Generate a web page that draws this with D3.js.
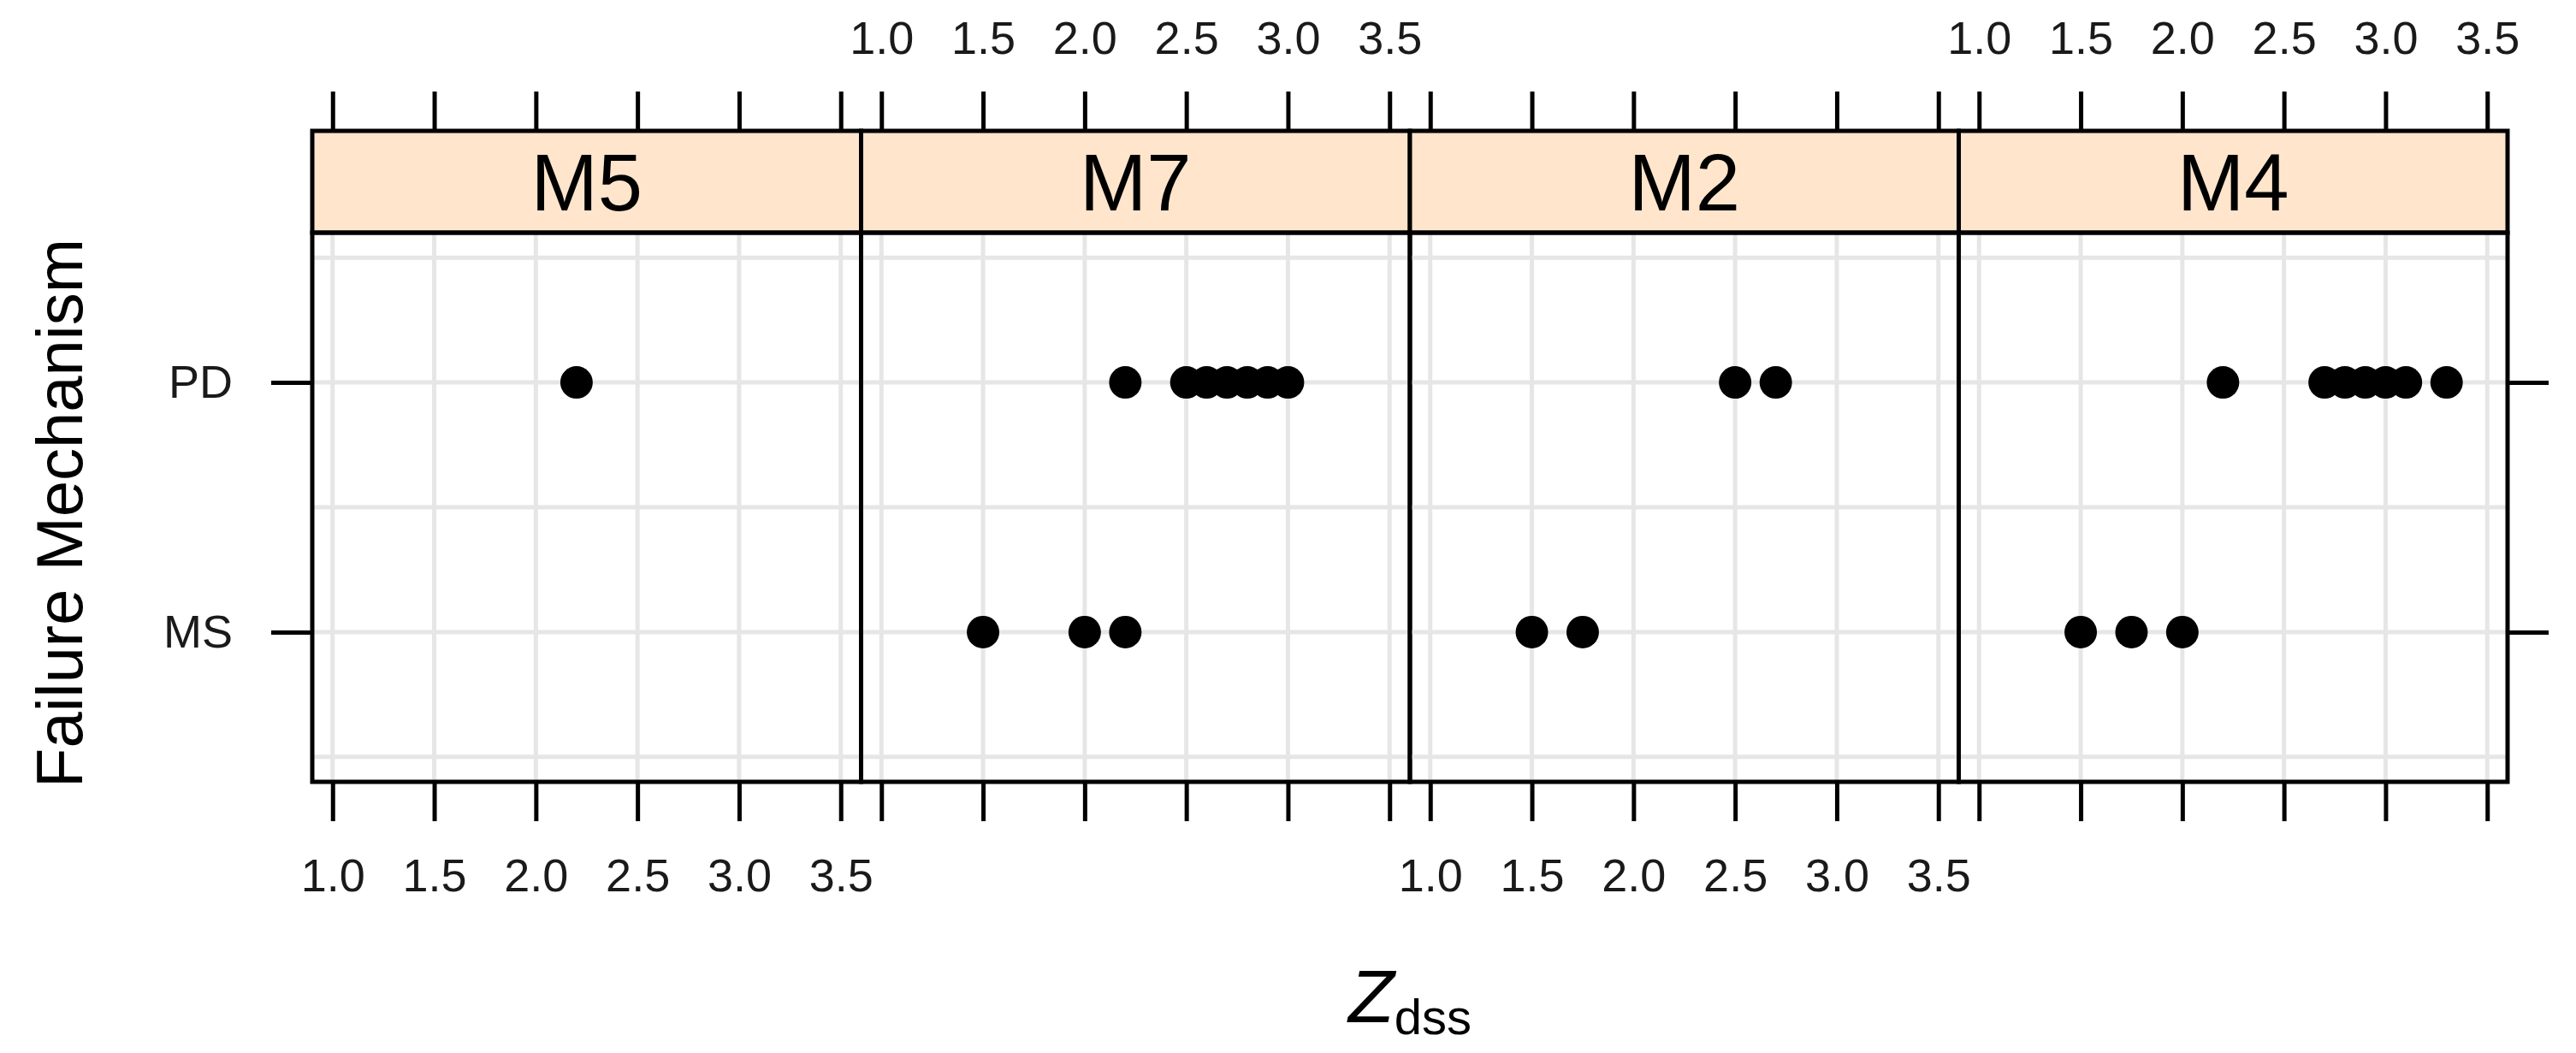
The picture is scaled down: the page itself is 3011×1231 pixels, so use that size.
<html>
<head>
<style>
  body { margin: 0; background: #fff; }
  text { font-family: "Liberation Sans", Arial, sans-serif; }
  .grid line { stroke: #e6e6e6; stroke-width: 5; }
  .tick line { stroke: #000; stroke-width: 5; }
  .tick text { fill: #1a1a1a; }
</style>
</head>
<body>
<svg id="chart" width="3011" height="1231"></svg>
<script src="https://cdn.jsdelivr.net/npm/d3@7"></script>
<script>
// data
const panels = ["M5", "M7", "M2", "M4"]
const mechanisms = ["MS", "PD"]
const xTicks = [1.0, 1.5, 2.0, 2.5, 3.0, 3.5]

const m5PD = [2.2]
const m5MS = []
const m7PD = [2.2, 2.5, 2.6, 2.7, 2.8, 2.9, 3.0]
const m7MS = [1.5, 2.0, 2.2]
const m2PD = [2.5, 2.7]
const m2MS = [1.5, 1.75]
const m4PD = [2.2, 2.7, 2.8, 2.9, 3.0, 3.1, 3.3]
const m4MS = [1.5, 1.75, 2.0]

const pdSets = [m5PD, m7PD, m2PD, m4PD]
const msSets = [m5MS, m7MS, m2MS, m4MS]

let svg = d3.select("#chart")

let left = 365, right = 2931
let stripTop = 153, panelTop = 272, panelBottom = 914
let panelW = (right - left) / panels.length
let tickLen = 46

let y = d3.scaleLinear().domain([0.4, 2.6]).range([panelBottom, panelTop])

panels.forEach((name, i) => {
    let x0 = left + i * panelW
    let x = d3.scaleLinear().domain([0.9, 3.6]).range([x0, x0 + panelW])
    let g = svg.append("g")

    // grid
    let grid = g.append("g").attr("class", "grid")
    grid.selectAll(".v").data(xTicks).enter().append("line")
        .attr("x1", d => x(d)).attr("x2", d => x(d))
        .attr("y1", panelTop).attr("y2", panelBottom)
    grid.selectAll(".h").data([0.5, 1, 1.5, 2, 2.5]).enter().append("line")
        .attr("x1", x0).attr("x2", x0 + panelW)
        .attr("y1", d => y(d)).attr("y2", d => y(d))

    // points
    let pts = pdSets[i].map(v => ({ v: v, m: "PD" }))
        .concat(msSets[i].map(v => ({ v: v, m: "MS" })))
    g.selectAll("circle").data(pts).enter().append("circle")
        .attr("cx", d => x(d.v))
        .attr("cy", d => y(mechanisms.indexOf(d.m) + 1))
        .attr("r", 19)
        .attr("fill", "#000")

    // strip
    g.append("rect")
        .attr("x", x0).attr("y", stripTop)
        .attr("width", panelW).attr("height", panelTop - stripTop)
        .attr("fill", "#ffe5cc").attr("stroke", "#000").attr("stroke-width", 5)
    g.append("text")
        .attr("x", x0 + panelW / 2).attr("y", (stripTop + panelTop) / 2 + 33)
        .attr("text-anchor", "middle")
        .attr("font-size", 94)
        .text(name)

    // panel border
    g.append("rect")
        .attr("x", x0).attr("y", panelTop)
        .attr("width", panelW).attr("height", panelBottom - panelTop)
        .attr("fill", "none").attr("stroke", "#000").attr("stroke-width", 5)

    // axes: labels alternate top / bottom
    let topAxis = d3.axisTop(x).tickValues(xTicks).tickSize(tickLen).tickPadding(44)
        .tickFormat(i % 2 == 1 ? d3.format(".1f") : () => "")
    let botAxis = d3.axisBottom(x).tickValues(xTicks).tickSize(tickLen).tickPadding(44)
        .tickFormat(i % 2 == 0 ? d3.format(".1f") : () => "")
    let ta = g.append("g").attr("transform", `translate(0,${stripTop})`).call(topAxis)
    let ba = g.append("g").attr("transform", `translate(0,${panelBottom})`).call(botAxis)
    for (let a of [ta, ba]) {
        a.select(".domain").remove()
        a.selectAll("text").attr("font-size", 54).attr("font-family", "Liberation Sans, Arial, sans-serif")
    }
})

// y axes
let yFmt = d => mechanisms[d - 1]
let ya = svg.append("g").attr("transform", `translate(${left},0)`)
    .call(d3.axisLeft(y).tickValues([1, 2]).tickSize(48).tickPadding(45).tickFormat(yFmt))
let yb = svg.append("g").attr("transform", `translate(${right},0)`)
    .call(d3.axisRight(y).tickValues([1, 2]).tickSize(48).tickFormat(() => ""))
for (let a of [ya, yb]) {
    a.select(".domain").remove()
    a.selectAll("text").attr("font-size", 54).attr("font-family", "Liberation Sans, Arial, sans-serif")
}

// axis titles
svg.append("text")
    .attr("transform", "translate(96,600) rotate(-90)")
    .attr("text-anchor", "middle")
    .attr("font-size", 76)
    .text("Failure Mechanism")

let xt = svg.append("text")
    .attr("x", 1648).attr("y", 1195)
    .attr("text-anchor", "middle")
xt.append("tspan").attr("font-size", 88).attr("font-style", "italic").text("Z")
xt.append("tspan").attr("font-size", 58).attr("dy", 14).text("dss")
</script>
</body>
</html>
